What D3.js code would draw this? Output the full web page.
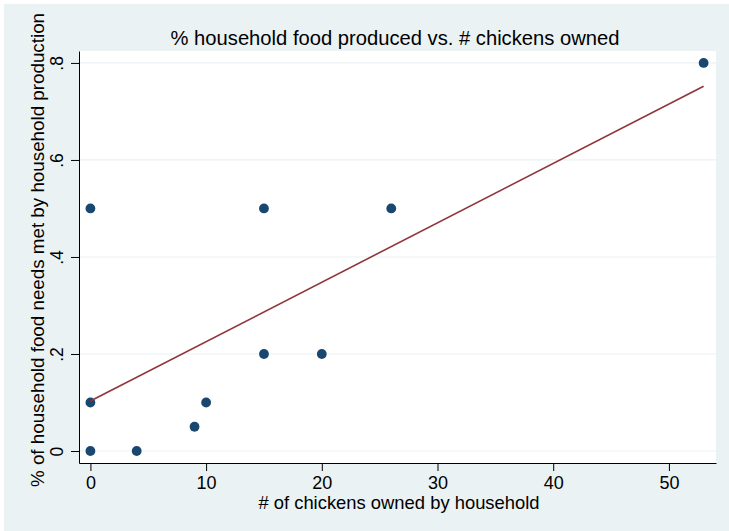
<!DOCTYPE html>
<html>
<head>
<meta charset="utf-8">
<script src="https://cdn.jsdelivr.net/npm/d3@7"></script>
<style>
  html, body { margin: 0; padding: 0; background: #ffffff; }
  svg { display: block; }
  text { font-family: "Liberation Sans", Arial, Helvetica, sans-serif; fill: #000; }
</style>
</head>
<body>
<svg id="chart" width="729" height="531"></svg>
<script>
// Chickens owned per household and share of food needs met by own production
const chickens = [0, 0, 0, 4, 9, 10, 15, 15, 20, 26, 53];
const foodShare = [0.5, 0.1, 0, 0, 0.05, 0.1, 0.5, 0.2, 0.2, 0.5, 0.8];

// Fitted linear prediction (endpoints over the observed range)
const fitX = [0, 53];
const fitY = [0.103, 0.752];

const xTicks = [0, 10, 20, 30, 40, 50];
const yTicks = [0, 0.2, 0.4, 0.6, 0.8];
const yTickLabels = ["0", ".2", ".4", ".6", ".8"];

const titleText = "% household food produced vs. # chickens owned";
const xTitle = "# of chickens owned by household";
const yTitle = "% of household food needs met by household production";

const W = 729, H = 531;
const plot = { left: 79, top: 51, right: 716, bottom: 463 };

const svg = d3.select("#chart");

// Outer graph region
svg.append("rect").attr("x", 4).attr("y", 4).attr("width", W - 4).attr("height", H - 4)
  .attr("fill", "#eaf2f3");

// Plot region
svg.append("rect")
  .attr("x", plot.left).attr("y", plot.top)
  .attr("width", plot.right - plot.left).attr("height", plot.bottom - plot.top)
  .attr("fill", "#ffffff");

const x = d3.scaleLinear().domain([-0.986, 54.07]).range([plot.left, plot.right]);
const y = d3.scaleLinear().domain([-0.0247, 0.8246]).range([plot.bottom, plot.top]);

// Horizontal grid lines
svg.append("g").selectAll("line").data(yTicks).join("line")
  .attr("x1", plot.left).attr("x2", plot.right)
  .attr("y1", d => y(d)).attr("y2", d => y(d))
  .attr("stroke", "#eaf2f3").attr("stroke-width", 1.2);

// Y axis
const yAxis = d3.axisLeft(y).tickValues(yTicks)
  .tickFormat((d, i) => yTickLabels[i]).tickSizeInner(8).tickSizeOuter(0).tickPadding(7);
const gy = svg.append("g").attr("transform", `translate(${plot.left},0)`).call(yAxis);
gy.select(".domain").attr("stroke", "#000").attr("stroke-width", 1);
gy.selectAll(".tick line").attr("stroke", "#000");
gy.selectAll(".tick text")
  .attr("font-size", 17.5).attr("font-family", "Liberation Sans, Arial, sans-serif")
  .attr("fill", "#000")
  .attr("text-anchor", "middle").attr("dy", null).attr("x", null)
  .attr("transform", "translate(-21,0) rotate(-90)")
  .attr("dominant-baseline", "middle");

// X axis
const xAxis = d3.axisBottom(x).tickValues(xTicks).tickSizeInner(8).tickSizeOuter(0).tickPadding(5);
const gx = svg.append("g").attr("transform", `translate(0,${plot.bottom})`).call(xAxis);
gx.select(".domain").attr("stroke", "#000").attr("stroke-width", 1);
gx.selectAll(".tick line").attr("stroke", "#000");
gx.selectAll(".tick text")
  .attr("font-size", 18).attr("font-family", "Liberation Sans, Arial, sans-serif")
  .attr("fill", "#000");

// Scatter points
svg.append("g").selectAll("circle").data(chickens.map((c, i) => [c, foodShare[i]])).join("circle")
  .attr("cx", d => x(d[0])).attr("cy", d => y(d[1])).attr("r", 4.9)
  .attr("fill", "#1a476f");

// Fitted line
const fitData = fitX.map((v, i) => [v, fitY[i]]);
svg.append("path").datum(fitData)
  .attr("d", d3.line().x(d => x(d[0])).y(d => y(d[1])))
  .attr("fill", "none").attr("stroke", "#90353b").attr("stroke-width", 1.6);

// Titles
svg.append("text").attr("x", 395).attr("y", 45)
  .attr("text-anchor", "middle").attr("font-size", 20.2).text(titleText);

svg.append("text").attr("x", 399).attr("y", 509)
  .attr("text-anchor", "middle").attr("font-size", 18.4).text(xTitle);

svg.append("text")
  .attr("transform", `translate(44,250) rotate(-90)`)
  .attr("text-anchor", "middle").attr("font-size", 18.8).text(yTitle);
</script>
</body>
</html>
